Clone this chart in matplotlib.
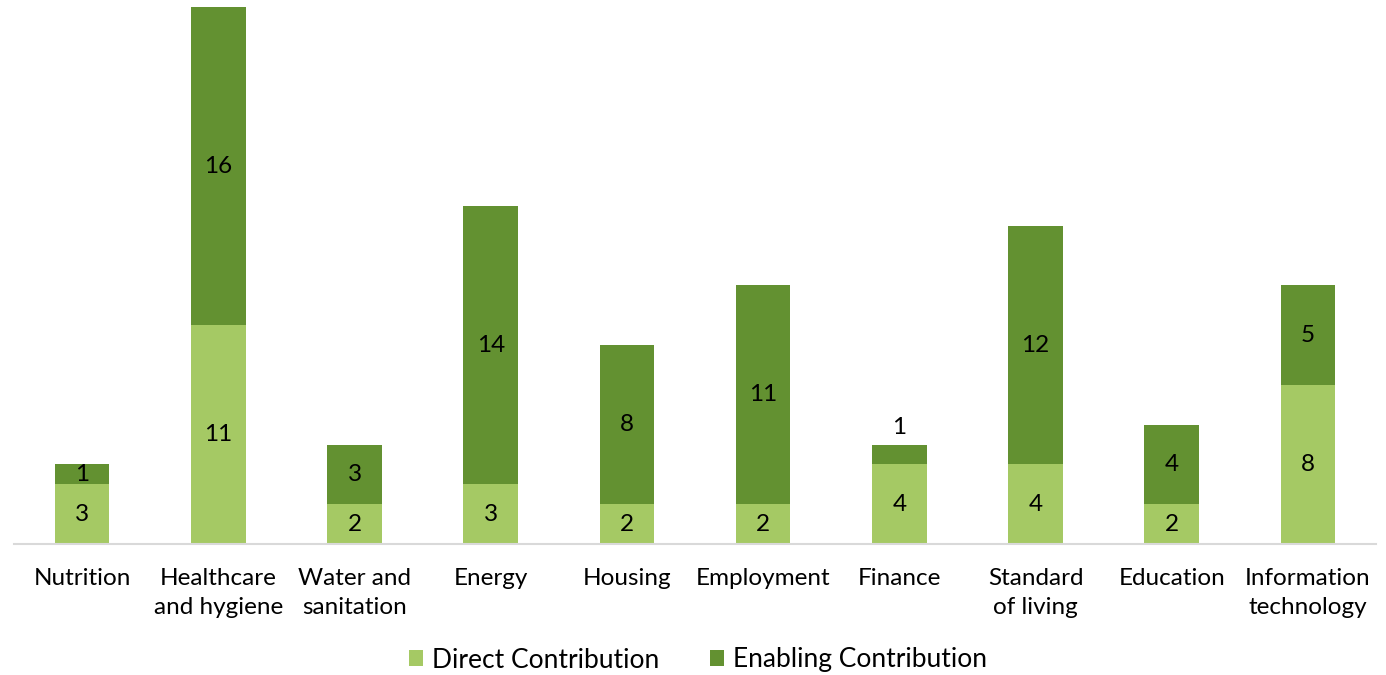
import matplotlib
matplotlib.use("Agg")
import matplotlib.pyplot as plt
import numpy as np

categories = ["Nutrition", "Healthcare\nand hygiene", "Water and\nsanitation", "Energy",
              "Housing", "Employment", "Finance", "Standard\nof living", "Education",
              "Information\ntechnology"]
direct = [3, 11, 2, 3, 2, 2, 4, 4, 2, 8]
enabling = [1, 16, 3, 14, 8, 11, 1, 12, 4, 5]
series_names = ["Direct Contribution", "Enabling Contribution"]

light = "#A5C964"
dark = "#639131"

plt.rcParams['font.family'] = ['Lato', 'DejaVu Sans']

fig = plt.figure(figsize=(13.86, 6.75), dpi=100)
ax = fig.add_axes([14/1386, 1-544/675, (1376-14)/1386, (544-7)/675])

x = np.arange(len(categories))
b1 = ax.bar(x, direct, width=0.4, color=light, label=series_names[0])
b2 = ax.bar(x, enabling, width=0.4, bottom=direct, color=dark, label=series_names[1])

fs = 17.5
ax.bar_label(b1, labels=[str(v) for v in direct], label_type='center', fontsize=fs, color='black')
edge_idx = categories.index("Finance")
center_labels = [str(v) if i != edge_idx else '' for i, v in enumerate(enabling)]
edge_labels = [str(v) if i == edge_idx else '' for i, v in enumerate(enabling)]
ax.bar_label(b2, labels=center_labels, label_type='center', fontsize=fs, color='black')
ax.bar_label(b2, labels=edge_labels, label_type='edge', padding=5, fontsize=fs, color='black')

ax.set_xlim(-0.5, len(categories) - 0.5)
ax.set_ylim(0, 27)
ax.set_yticks([])
ax.set_xticks(x)
ax.set_xticklabels(categories, fontsize=fs, linespacing=1.5)
ax.tick_params(axis='x', length=0, pad=17)
for s in ['top', 'right', 'left']:
    ax.spines[s].set_visible(False)
ax.spines['bottom'].set_color('#D9D9D9')
ax.spines['bottom'].set_linewidth(1.5)

fig.legend(handles=[b1, b2], labels=series_names, loc='center', bbox_to_anchor=(698/1386, 1-660/675),
           ncol=2, frameon=False, fontsize=19, handlelength=0.55, handleheight=0.55,
           handletextpad=0.35, columnspacing=1.9)

fig.savefig("out.png", dpi=100)
